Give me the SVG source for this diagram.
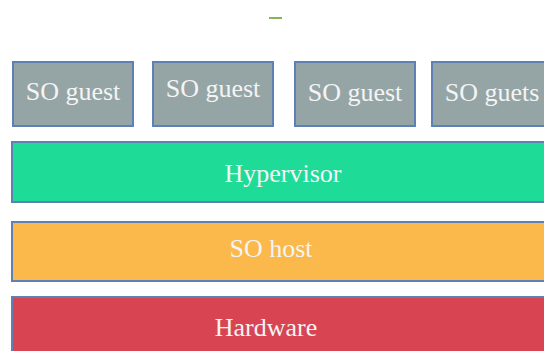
<svg xmlns="http://www.w3.org/2000/svg" width="544" height="351" viewBox="0 0 544 351">
<style>
.box{stroke:#5f80b4;stroke-width:2}
.guest{fill:#95a5a6}
.t{font-family:"Liberation Serif","Times New Roman",serif;font-size:26px;fill:#f4f4f4;text-anchor:middle}
</style>
<rect width="544" height="351" fill="#ffffff"/>
<line x1="269" y1="18" x2="282" y2="18" stroke="#5a9e1e" stroke-width="1.5"/>
<g id="guest1"><rect class="box guest" x="13" y="62" width="120" height="64"/><text class="t" x="73" y="100">SO guest</text></g>
<g id="guest2"><rect class="box guest" x="153" y="62" width="120" height="64"/><text class="t" x="213" y="97">SO guest</text></g>
<g id="guest3"><rect class="box guest" x="295" y="62" width="120" height="64"/><text class="t" x="355" y="101">SO guest</text></g>
<g id="guest4"><rect class="box guest" x="432" y="62" width="120" height="64"/><text class="t" x="492" y="101">SO guets</text></g>
<g id="hypervisor"><rect class="box" x="12" y="142" width="545" height="60" fill="#1edb98"/><text class="t" x="283" y="182">Hypervisor</text></g>
<g id="host"><rect class="box" x="12" y="222" width="545" height="59" fill="#fbb94c" stroke="#7f8fa8"/><text class="t" x="271" y="257">SO host</text></g>
<g id="hardware"><rect class="box" x="12" y="297" width="545" height="70" fill="#d94452"/><text class="t" x="266" y="336">Hardware</text></g>
<g id="connectors"/>
</svg>
